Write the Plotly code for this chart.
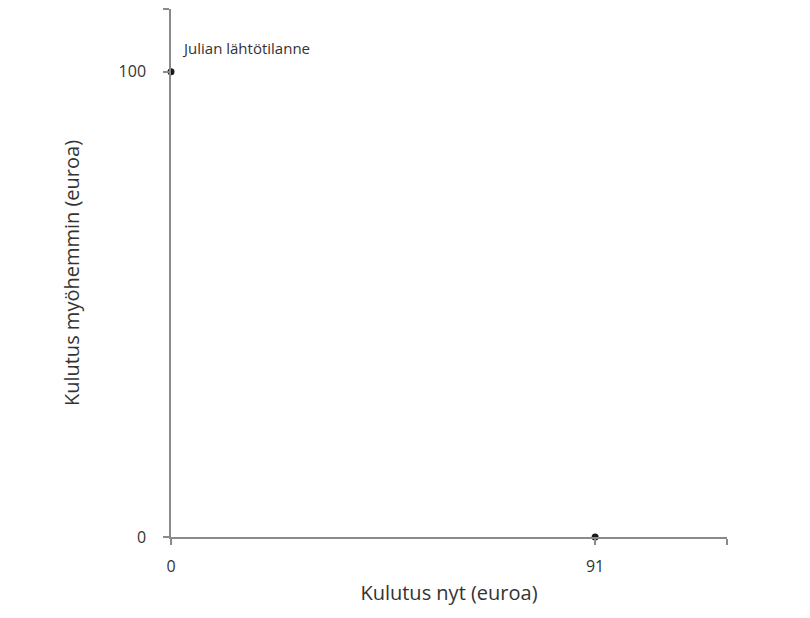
import plotly.graph_objects as go

# data
points_x = [0, 91]
points_y = [100, 0]
x_tick_vals = [0, 91, 119.3]
x_tick_text = ["0", "91", ""]
y_tick_vals = [0, 100, 113.5]
y_tick_text = ["0", "100", ""]
label_text = "Julian lähtötilanne"

font_family = "Open Sans"
text_color = "#333333"
axis_color = "#8a8a8a"

fig = go.Figure()
fig.add_trace(go.Scatter(
    x=points_x,
    y=points_y,
    mode="markers",
    marker=dict(color="#1a1a1a", size=7),
    cliponaxis=False,
    showlegend=False,
    hoverinfo="skip",
))

# starting point label
fig.add_annotation(
    x=points_x[0], y=points_y[0],
    text=label_text,
    showarrow=False,
    xanchor="left", yanchor="bottom",
    xshift=9, yshift=12,
    font=dict(family=font_family, size=15, color=text_color),
)

fig.update_layout(
    width=810, height=618,
    margin=dict(l=163, r=91, t=1, b=89),
    paper_bgcolor="white",
    plot_bgcolor="white",
    font=dict(family=font_family, color=text_color),
    xaxis=dict(
        range=[0, 119.3],
        tickvals=x_tick_vals, ticktext=x_tick_text,
        showgrid=False, zeroline=False,
        showline=True, linecolor=axis_color, linewidth=1.5,
        ticks="outside", tickcolor=axis_color, ticklen=6, tickwidth=1.5,
        ticklabelstandoff=8,
        tickfont=dict(size=16, color=text_color),
        title=dict(text="Kulutus nyt (euroa)", font=dict(size=20, color=text_color), standoff=10),
    ),
    yaxis=dict(
        range=[0, 113.5],
        tickvals=y_tick_vals, ticktext=y_tick_text,
        showgrid=False, zeroline=False,
        showline=True, linecolor=axis_color, linewidth=1.5,
        ticks="outside", tickcolor=axis_color, ticklen=6, tickwidth=1.5,
        ticklabelstandoff=14,
        tickfont=dict(size=16, color=text_color),
        title=dict(text="Kulutus myöhemmin (euroa)", font=dict(size=20, color=text_color), standoff=34),
    ),
)

fig.write_html("out.html")
